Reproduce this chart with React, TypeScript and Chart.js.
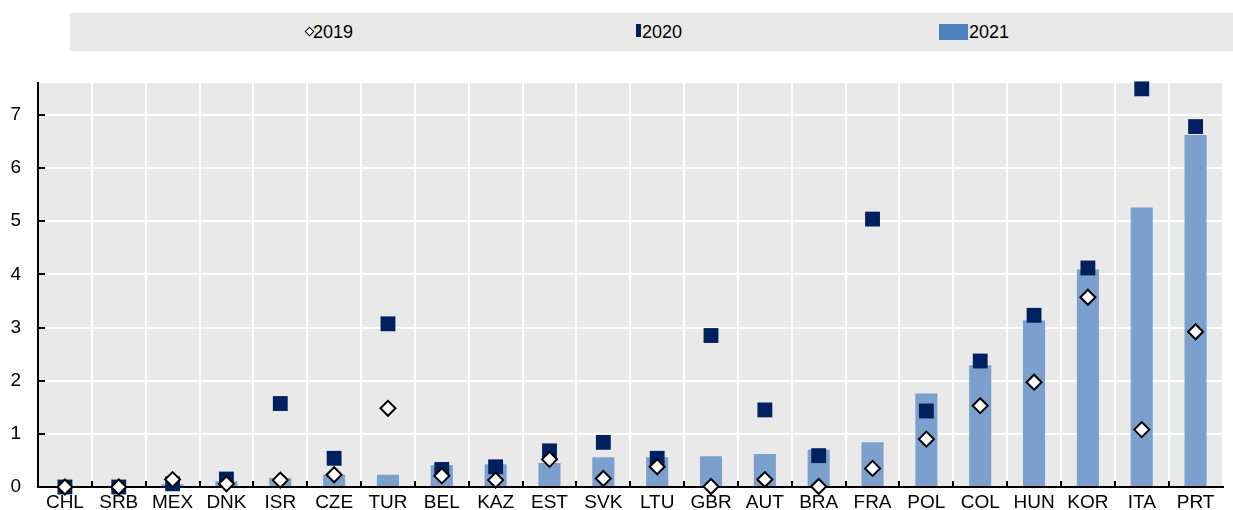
import React, { useEffect, useRef } from "react";
import { Chart, registerables } from "chart.js";

Chart.register(...registerables);

const categories = ["CHL","SRB","MEX","DNK","ISR","CZE","TUR","BEL","KAZ","EST","SVK","LTU","GBR","AUT","BRA","FRA","POL","COL","HUN","KOR","ITA","PRT"];
const values2019 = [0, 0, 0.14, 0.06, 0.13, 0.23, 1.48, 0.21, 0.13, 0.52, 0.16, 0.38, 0.01, 0.14, 0.01, 0.35, 0.9, 1.53, 1.97, 3.57, 1.08, 2.92];
const values2020 = [0, 0, 0.06, 0.15, 1.57, 0.54, 3.07, 0.33, 0.38, 0.68, 0.84, 0.54, 2.85, 1.45, 0.59, 5.04, 1.43, 2.37, 3.23, 4.12, 7.49, 6.78];
const values2021 = [0, 0, 0.05, 0.11, 0.17, 0.23, 0.23, 0.41, 0.43, 0.45, 0.56, 0.56, 0.58, 0.62, 0.7, 0.84, 1.76, 2.29, 3.13, 4.09, 5.26, 6.62];
const seriesLabels = ["2019", "2020", "2021"];
const yMax = 7.6;

const FONT = "'Liberation Sans', Arial, sans-serif";

const bgPlugin = {
  id: "plotBg",
  beforeDraw(chart: any) {
    const { ctx, chartArea } = chart;
    ctx.save();
    ctx.fillStyle = "#e9e9e9";
    ctx.fillRect(chartArea.left, chartArea.top, chartArea.right - chartArea.left, chartArea.bottom - chartArea.top);
    ctx.restore();
  },
  beforeDatasetsDraw(chart: any) {
    const { ctx, chartArea, scales } = chart;
    ctx.save();
    ctx.strokeStyle = "#000";
    ctx.lineWidth = 2;
    const ys = scales.y;
    ys.ticks.forEach((_t: any, i: number) => {
      const y = Math.round(ys.getPixelForTick(i));
      ctx.beginPath();
      ctx.moveTo(chartArea.left, y);
      ctx.lineTo(chartArea.left + 7, y);
      ctx.stroke();
    });
    const xs = scales.x;
    const n = categories.length;
    const w = (chartArea.right - chartArea.left) / n;
    for (let i = 1; i < n; i++) {
      const x = Math.round(xs.getPixelForTick(i) - w / 2);
      ctx.beginPath();
      ctx.moveTo(x, chartArea.bottom);
      ctx.lineTo(x, chartArea.bottom - 6);
      ctx.stroke();
    }
    ctx.restore();
  },
};

function Legend() {
  const text: React.CSSProperties = {
    position: "absolute",
    top: 0,
    height: 38,
    lineHeight: "38px",
    fontFamily: FONT,
    fontSize: 18,
    color: "#000",
  };
  return (
    <div style={{ position: "absolute", left: 70, top: 13, width: 1163, height: 38, background: "#e9e9e9" }}>
      <div style={{ position: "absolute", left: 305 - 70 + 1, top: 15, width: 5, height: 5, border: "1.5px solid #000", transform: "rotate(45deg)", background: "#fff" }} />
      <div style={{ ...text, left: 313 - 70 }}>{seriesLabels[0]}</div>
      <div style={{ position: "absolute", left: 636 - 70, top: 11, width: 5, height: 13, background: "#002060" }} />
      <div style={{ ...text, left: 642 - 70 }}>{seriesLabels[1]}</div>
      <div style={{ position: "absolute", left: 939 - 70, top: 11, width: 29, height: 16, background: "#4f81bd" }} />
      <div style={{ ...text, left: 969 - 70 }}>{seriesLabels[2]}</div>
    </div>
  );
}

export default function App() {
  const canvasRef = useRef<HTMLCanvasElement>(null);

  useEffect(() => {
    document.body.style.margin = "0";
    const chart = new Chart(canvasRef.current!, {
      type: "bar",
      data: {
        labels: categories,
        datasets: [
          {
            type: "line",
            label: seriesLabels[0],
            data: values2019,
            showLine: false,
            clip: false,
            pointStyle: "rectRot",
            pointRadius: 7.5,
            pointBackgroundColor: "#ffffff",
            pointBorderColor: "#000000",
            pointBorderWidth: 2,
            order: 1,
          } as any,
          {
            type: "line",
            label: seriesLabels[1],
            data: values2020,
            showLine: false,
            clip: false,
            pointStyle: "rect",
            pointRadius: 10.5,
            pointBackgroundColor: "#002060",
            pointBorderColor: "#002060",
            pointBorderWidth: 0,
            order: 2,
          } as any,
          {
            type: "bar",
            label: seriesLabels[2],
            data: values2021,
            backgroundColor: "#7ba0cd",
            borderWidth: 0,
            categoryPercentage: 1,
            barPercentage: 0.41,
            order: 3,
          },
        ],
      },
      options: {
        animation: false,
        responsive: false,
        maintainAspectRatio: false,
        layout: { padding: { top: 83, right: 0, left: 0, bottom: 0 } },
        plugins: { legend: { display: false }, tooltip: { enabled: false } },
        scales: {
          x: {
            offset: true,
            grid: { color: "#ffffff", lineWidth: 2, drawTicks: false, offset: true },
            border: { color: "#000", width: 2 },
            ticks: { color: "#000", font: { family: FONT, size: 19 }, padding: 4, maxRotation: 0, autoSkip: false },
            afterFit(scale: any) {
              scale.height = 23;
              scale.paddingLeft = 0;
              scale.paddingRight = 0;
            },
          },
          y: {
            min: 0,
            max: yMax,
            grid: { color: "#ffffff", lineWidth: 2, drawTicks: false },
            border: { color: "#000", width: 2 },
            ticks: { stepSize: 1, includeBounds: false, color: "#000", font: { family: FONT, size: 19 }, padding: 17 },
            afterFit(scale: any) {
              scale.width = 38;
              scale.paddingTop = 0;
              scale.paddingBottom = 0;
            },
          },
        },
      },
      plugins: [bgPlugin],
    });
    return () => chart.destroy();
  }, []);

  return (
    <div style={{ position: "relative", width: 1233, height: 510 }}>
      <canvas ref={canvasRef} width={1233} height={510} style={{ position: "absolute", left: 0, top: 0 }} />
      <Legend />
    </div>
  );
}
